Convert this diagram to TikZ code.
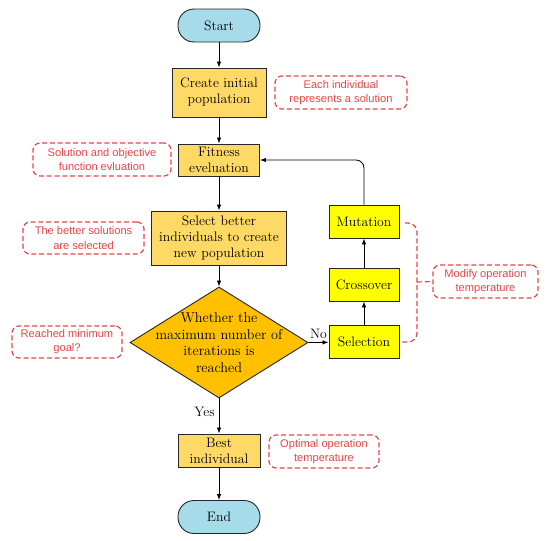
\documentclass[tikz,border=0pt]{standalone}
\usepackage{fontspec}
\newfontfamily\notefont{Liberation Sans}
\usetikzlibrary{shapes.geometric,arrows.meta}
\definecolor{boxyellow}{HTML}{FFD966}
\definecolor{diamyellow}{HTML}{FFC000}
\definecolor{brightyellow}{HTML}{FFFF00}
\definecolor{termblue}{HTML}{A6DCE9}
\definecolor{notered}{HTML}{E84545}
\tikzset{
  base/.style={draw=black!85, line width=0.9pt, align=center, inner sep=0pt,
    font=\fontsize{13.7}{16}\selectfont},
  term/.style={base, rectangle, rounded corners=16pt, fill=termblue, minimum width=82pt, minimum height=33pt},
  proc/.style={base, rectangle, fill=boxyellow},
  op/.style={base, rectangle, fill=brightyellow, minimum width=70pt, minimum height=33pt},
  decision/.style={base, diamond, fill=diamyellow, minimum width=178pt, minimum height=111pt},
  plain/.style={align=center, inner sep=0pt, font=\fontsize{14.2}{16.6}\selectfont},
  note/.style={draw=notered, dash pattern=on 5pt off 2.8pt, line width=1.2pt, rounded corners=7pt,
    text=notered, align=center, inner sep=0pt, font=\notefont\fontsize{11.1}{14.2}\selectfont},
  bracket/.style={draw=notered, dash pattern=on 5pt off 2.8pt, line width=1.2pt},
  arrow/.style={draw=black, line width=0.8pt, -{Latex[length=6pt,width=4.5pt]}},
  lbl/.style={inner sep=0pt, font=\fontsize{13.7}{15}\selectfont}
}
\begin{document}
\begin{tikzpicture}[x=1pt,y=-1pt]
\useasboundingbox (0,0) rectangle (550,541);
% main column
\node[term] (start) at (219,25.5) {Start};
\node[proc, minimum width=94pt, minimum height=49pt] (create) at (219,92.5) {Create initial\\population};
\node[proc, minimum width=81pt, minimum height=32pt] (fit) at (219,160) {Fitness\\eveluation};
\node[proc, minimum width=135pt, minimum height=54pt] (sel) at (219,238) {Select better\\individuals to create\\new population};
\node[decision] (dec) at (219,342.5) {};
\node[plain] (dectext) at (dec.center) {Whether the\\maximum number of\\iterations is\\reached};
\node[proc, minimum width=82pt, minimum height=33pt] (best) at (219,450.5) {Best\\individual};
\node[term] (end) at (219,517) {End};
% operators
\node[op] (selection) at (364,342) {Selection};
\node[op] (cross) at (364,284.5) {Crossover};
\node[op] (mut) at (364,221.5) {Mutation};
% notes
\node[note, minimum width=132pt, minimum height=33pt] (n1) at (341,92.5) {Each individual\\represents a solution};
\node[note, minimum width=138pt, minimum height=33pt] (n2) at (102,159.5) {Solution and objective\\function evluation};
\node[note, minimum width=121pt, minimum height=32pt] (n3) at (83.5,238) {The better solutions\\are selected};
\node[note, minimum width=110pt, minimum height=32pt] (n4) at (67,342) {Reached minimum\\goal?};
\node[note, minimum width=110pt, minimum height=33pt] (n5) at (324,451.5) {Optimal operation\\temperature};
\node[note, minimum width=105pt, minimum height=33pt] (n6) at (485.5,281.5) {Modify operation\\temperature};
% connectors
\draw[arrow] (start) -- (create);
\draw[arrow] (create) -- (fit);
\draw[arrow] (fit) -- (sel);
\draw[arrow] (sel) -- (dec.north);
\draw[arrow] (dec.south) -- node[lbl, pos=0.38, left=4pt] (yes) {Yes} (best);
\draw[arrow] (best) -- (end);
\draw[arrow] (dec.east) -- node[lbl, above=3pt] (no) {No} (selection);
\draw[arrow] (selection) -- (cross);
\draw[arrow] (cross) -- (mut);
\draw[arrow, rounded corners=8pt] (mut.north) |- (fit.east);
% bracket
\coordinate (bta) at (405,223);
\coordinate (btb) at (417,223);
\coordinate (bbb) at (417,342);
\coordinate (bba) at (401,342);
\coordinate (bmid) at (417,282);
\draw[bracket, rounded corners=9pt] (bta) -- (btb) -- (bbb) -- (bba);
\draw[bracket] (bmid) -- (n6.west);
\end{tikzpicture}
\end{document}
